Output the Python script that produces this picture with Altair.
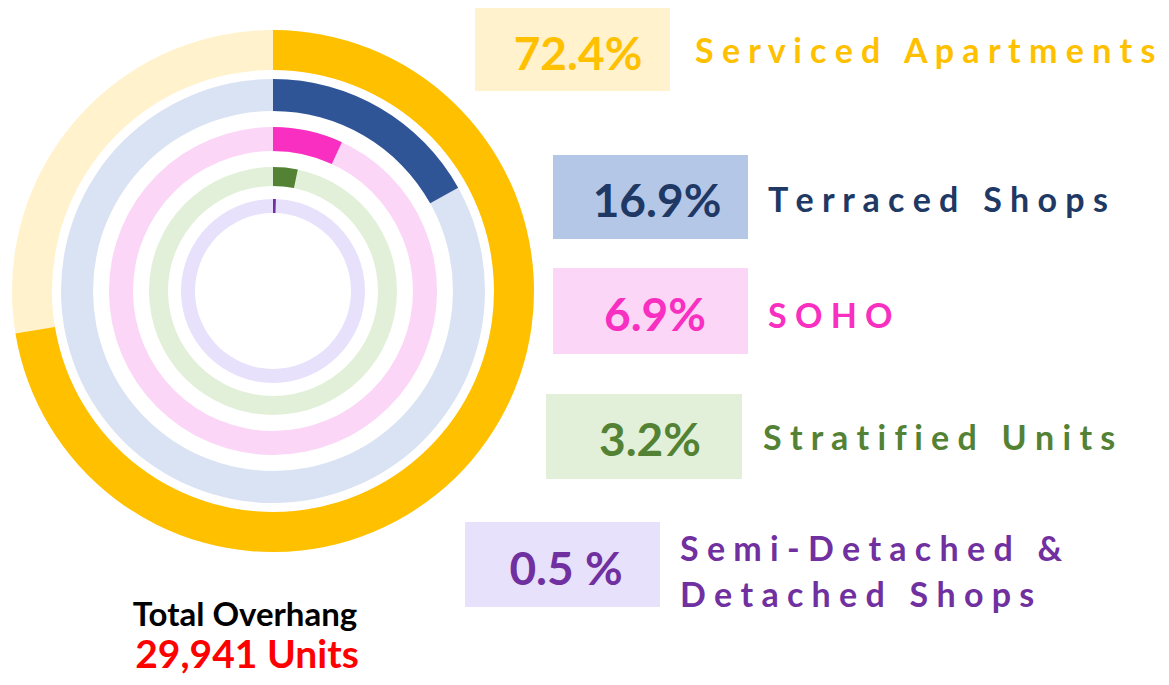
import math
import altair as alt
import pandas as pd

# ---------------- data ----------------
categories = ["Serviced Apartments", "Terraced Shops", "SOHO", "Stratified Units",
              "Semi-Detached & Detached Shops"]
shares = [72.4, 16.9, 6.9, 3.2, 0.5]
pct_text = ["72.4%", "16.9%", "6.9%", "3.2%", "0.5 %"]
label_lines = [["Serviced Apartments"], ["Terraced Shops"], ["SOHO"], ["Stratified Units"],
               ["Semi-Detached &", "Detached Shops"]]
total_title = "Total Overhang"
total_value = "29,941 Units"

# ---------------- styles ----------------
bar_colors = ["#FFC000", "#2F5597", "#F82FC0", "#548235", "#7030A0"]
track_colors = ["#FFF2CC", "#DAE3F3", "#FBD6F6", "#E2F0D9", "#E7E1FB"]
box_colors = ["#FFF2CC", "#B4C7E7", "#FBD6F6", "#E2F0D9", "#E7E1FB"]
pct_colors = ["#FFC000", "#203864", "#F82FC0", "#548235", "#7030A0"]
name_colors = ["#FFC000", "#203864", "#F82FC0", "#548235", "#7030A0"]

# ---------------- layout (pixels, plot coords) ----------------
W, H = 1153, 669
CX, CY = 265, 283
ring_outer = [261, 212, 164, 124, 92]
ring_inner = [221, 180, 140, 105, 78]
box_x = [467, 545, 545, 538, 457]
box_x2 = [662, 740, 740, 734, 652]
box_y = [0, 147, 260, 386, 514]
box_y2 = [83, 231, 346, 471, 599]
pct_x = [570, 649, 647, 642, 558]
pct_y = [62, 209, 323, 448, 577]
name_x = [687, 760, 760, 755, 672]
name_y = [55, 204, 320, 442, 553]
FONT = "Lato"
WORD_GAP = " \u00a0 "


def spaced(line):
    return WORD_GAP.join(" ".join(w) for w in line.split(" "))


df = pd.DataFrame({
    "category": categories,
    "share": shares,
    "pct": pct_text,
    "name": ["\n".join(spaced(l) for l in lines) for lines in label_lines],
    "bar_color": bar_colors,
    "track_color": track_colors,
    "box_color": box_colors,
    "pct_color": pct_colors,
    "name_color": name_colors,
    "r_out": ring_outer,
    "r_in": ring_inner,
    "bx": box_x, "bx2": box_x2, "by": box_y, "by2": box_y2,
    "px": pct_x, "py": pct_y, "nx": name_x, "ny": name_y,
})

base = alt.Chart(df)

track = base.transform_calculate(
    t0="0", t1="2*PI"
).mark_arc().encode(
    x=alt.value(CX), y=alt.value(CY),
    theta=alt.Theta("t0:Q", scale=None, stack=None),
    theta2="t1:Q",
    radius=alt.Radius("r_out:Q", scale=None),
    radius2="r_in:Q",
    color=alt.Color("track_color:N", scale=None),
)

bars = base.transform_calculate(
    t0="0", t1="datum.share/100*2*PI"
).mark_arc().encode(
    x=alt.value(CX), y=alt.value(CY),
    theta=alt.Theta("t0:Q", scale=None, stack=None),
    theta2="t1:Q",
    radius=alt.Radius("r_out:Q", scale=None),
    radius2="r_in:Q",
    color=alt.Color("bar_color:N", scale=None),
    tooltip=["category:N", "share:Q"],
)

boxes = base.mark_rect().encode(
    x=alt.X("bx:Q", scale=None), x2="bx2:Q",
    y=alt.Y("by:Q", scale=None), y2="by2:Q",
    color=alt.Color("box_color:N", scale=None),
)

pcts = base.mark_text(font=FONT, fontWeight="bold", fontSize=46, align="center",
                      baseline="alphabetic").encode(
    x=alt.X("px:Q", scale=None), y=alt.Y("py:Q", scale=None),
    text="pct:N",
    color=alt.Color("pct_color:N", scale=None),
)

names = base.mark_text(font=FONT, fontWeight="bold", fontSize=34, align="left",
                       baseline="alphabetic", lineBreak="\n", lineHeight=46).encode(
    x=alt.X("nx:Q", scale=None), y=alt.Y("ny:Q", scale=None),
    text="name:N",
    color=alt.Color("name_color:N", scale=None),
)

totals_df = pd.DataFrame({
    "t": [total_title, total_value],
    "c": ["#000000", "#FF0000"],
    "x": [237, 239],
    "y": [618, 660],
    "s": [33, 39],
})
totals = alt.Chart(totals_df).mark_text(font=FONT, fontWeight="bold", align="center",
                                        baseline="alphabetic").encode(
    x=alt.X("x:Q", scale=None), y=alt.Y("y:Q", scale=None),
    text="t:N",
    color=alt.Color("c:N", scale=None),
    size=alt.Size("s:Q", scale=None),
)

chart = alt.layer(track, bars, boxes, pcts, names, totals).properties(
    width=W, height=H, padding=0, autosize=alt.AutoSizeParams(type="none"),
).configure_view(stroke=None)

chart.save("out.html", embed_options={"renderer": "svg", "actions": False})
